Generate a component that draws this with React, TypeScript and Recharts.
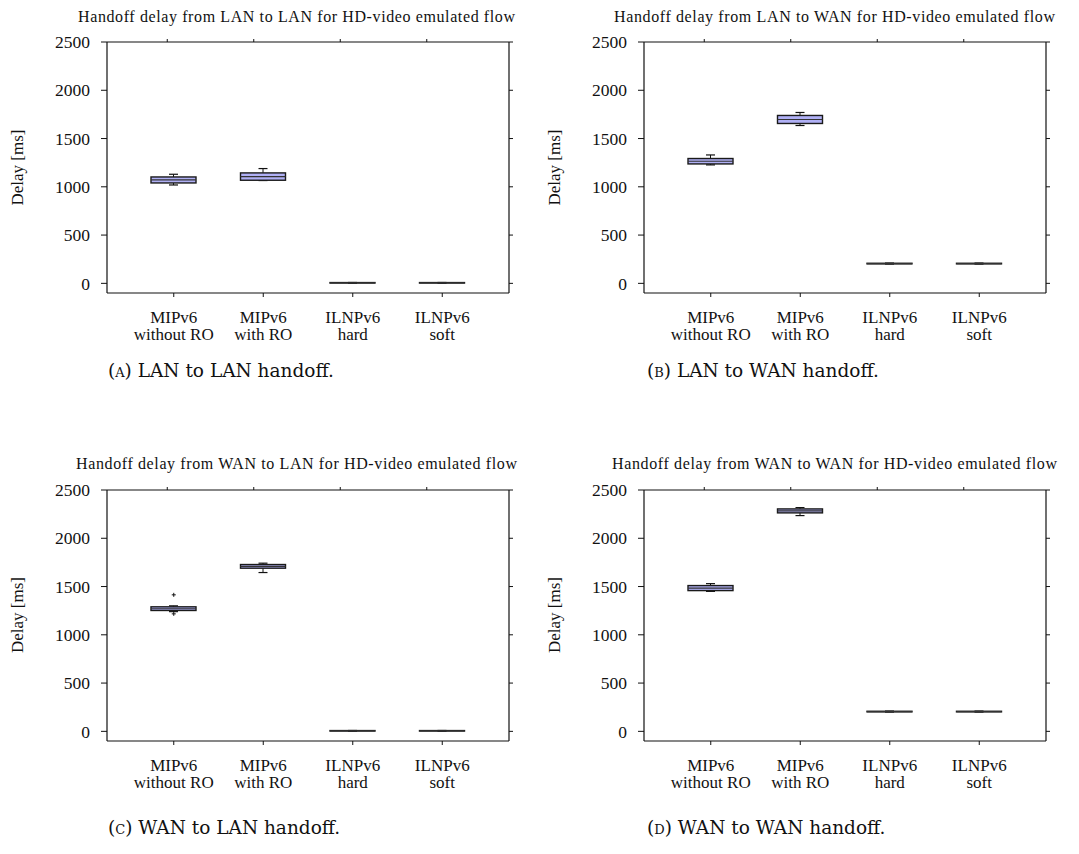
import React from 'react';
import {
  ComposedChart,
  Bar,
  Line,
  Scatter,
  XAxis,
  YAxis,
} from 'recharts';

const categories = ['MIPv6 without RO', 'MIPv6 with RO', 'ILNPv6 hard', 'ILNPv6 soft'];
const yTicks = [0, 500, 1000, 1500, 2000, 2500];

// LAN -> LAN
const lanLanMin = [1019, 1065, 3, 3];
const lanLanQ1 = [1040, 1068, 5, 5];
const lanLanMedian = [1071, 1106, 6, 6];
const lanLanQ3 = [1102, 1144, 8, 8];
const lanLanMax = [1130, 1189, 9, 9];

// LAN -> WAN
const lanWanMin = [1227, 1635, 200, 200];
const lanWanQ1 = [1237, 1656, 202, 202];
const lanWanMedian = [1265, 1697, 205, 205];
const lanWanQ3 = [1293, 1739, 208, 208];
const lanWanMax = [1330, 1770, 210, 210];

// WAN -> LAN
const wanLanMin = [1240, 1645, 3, 3];
const wanLanQ1 = [1252, 1690, 5, 5];
const wanLanMedian = [1270, 1709, 6, 6];
const wanLanQ3 = [1290, 1728, 8, 8];
const wanLanMax = [1300, 1742, 9, 9];
const wanLanOutHigh = [1414, null, null, null];
const wanLanOutLow = [1217, null, null, null];

// WAN -> WAN
const wanWanMin = [1450, 2235, 200, 200];
const wanWanQ1 = [1458, 2263, 202, 202];
const wanWanMedian = [1483, 2284, 205, 205];
const wanWanQ3 = [1510, 2304, 208, 208];
const wanWanMax = [1530, 2318, 210, 210];

const FONT = "'Liberation Serif', 'Times New Roman', Times, serif";
const CAPTION_FONT = "'DejaVu Serif', serif";

type Row = {
  name: string;
  range: [number, number];
  min: number;
  q1: number;
  median: number;
  q3: number;
  max: number;
  out1: number | null;
  out2: number | null;
};

function buildRows(
  min: number[], q1: number[], median: number[], q3: number[], max: number[],
  outA?: (number | null)[], outB?: (number | null)[],
): Row[] {
  return categories.map((name, i) => ({
    name,
    range: [min[i], max[i]],
    min: min[i],
    q1: q1[i],
    median: median[i],
    q3: q3[i],
    max: max[i],
    out1: outA ? outA[i] : null,
    out2: outB ? outB[i] : null,
  }));
}

const BoxShape = (props: any) => {
  const { x, y, width, height, payload } = props;
  if (x == null || y == null) return <g />;
  const top = height < 0 ? y + height : y;
  const h = Math.abs(height);
  const lo = payload.min;
  const hi = payload.max;
  const span = hi - lo;
  const toY = (v: number) => (span === 0 ? top : top + (h * (hi - v)) / span);
  const cx = x + width / 2;
  const cap = 4.5;
  const yMax = toY(payload.max);
  const yQ3 = toY(payload.q3);
  const yMed = toY(payload.median);
  const yQ1 = toY(payload.q1);
  const yMin = toY(payload.min);
  return (
    <g>
      <line x1={cx} x2={cx} y1={yMax} y2={yQ3} stroke="#111" strokeWidth={1} />
      <line x1={cx} x2={cx} y1={yQ1} y2={yMin} stroke="#111" strokeWidth={1} />
      <line x1={cx - cap} x2={cx + cap} y1={yMax} y2={yMax} stroke="#111" strokeWidth={1.2} />
      <line x1={cx - cap} x2={cx + cap} y1={yMin} y2={yMin} stroke="#111" strokeWidth={1.2} />
      <rect x={x} y={yQ3} width={width} height={Math.max(yQ1 - yQ3, 0.5)} fill="#b0b0f5" stroke="#1a1a1a" strokeWidth={1.4} />
      <line x1={x} x2={x + width} y1={yMed} y2={yMed} stroke="#333" strokeWidth={1.2} />
    </g>
  );
};

const PlusShape = (props: any) => {
  const { cx, cy } = props;
  if (cx == null || cy == null || Number.isNaN(cx) || Number.isNaN(cy)) return <g />;
  return (
    <g>
      <line x1={cx - 2} x2={cx + 2} y1={cy} y2={cy} stroke="#111" strokeWidth={1} />
      <line x1={cx} x2={cx} y1={cy - 2} y2={cy + 2} stroke="#111" strokeWidth={1} />
    </g>
  );
};

const CategoryTick = (props: any) => {
  const { x, y, payload } = props;
  const parts = String(payload.value).split(' ');
  const first = parts[0];
  const rest = parts.slice(1).join(' ');
  return (
    <g>
      <text x={x} y={y + 23.5} textAnchor="middle" style={{ fontFamily: FONT, fontSize: 17 }} fill="#111">
        {first}
      </text>
      <text x={x} y={y + 41} textAnchor="middle" style={{ fontFamily: FONT, fontSize: 17 }} fill="#111">
        {rest}
      </text>
    </g>
  );
};

const Panel = ({ data, left, top }: { data: Row[]; left: number; top: number }) => (
  <div style={{ position: 'absolute', left, top, width: 540, height: 380 }}>
    <ComposedChart
      width={540}
      height={380}
      data={data}
      margin={{ top: 38, right: 21, bottom: 27, left: 47 }}
    >
      <XAxis
        dataKey="name"
        height={60}
        padding={{ left: 22, right: 22 }}
        axisLine={{ stroke: '#111', strokeWidth: 1.2 }}
        tickLine={{ stroke: '#111' }}
        tickSize={4}
        tick={<CategoryTick />}
        interval={0}
      />
      <XAxis
        xAxisId="top"
        orientation="top"
        dataKey="name"
        height={4}
        padding={{ left: 17, right: 39 }}
        axisLine={{ stroke: '#111', strokeWidth: 1.2 }}
        tickLine={{ stroke: '#111' }}
        tickSize={3}
        tickFormatter={() => ''}
        interval={0}
      />
      <YAxis
        width={60}
        domain={[-100, 2500]}
        ticks={yTicks}
        interval={0}
        allowDataOverflow
        axisLine={{ stroke: '#111', strokeWidth: 1.2 }}
        tickLine={{ stroke: '#111' }}
        tickSize={6}
        tickMargin={11}
        tick={{ style: { fontFamily: FONT, fontSize: 17.5 }, fill: '#111' }}
      />
      <YAxis
        yAxisId="r"
        orientation="right"
        width={10}
        domain={[-100, 2500]}
        ticks={yTicks}
        interval={0}
        allowDataOverflow
        axisLine={{ stroke: '#111', strokeWidth: 1.2 }}
        tickLine={{ stroke: '#111' }}
        tickSize={4}
        tickFormatter={() => ''}
      />
      <Bar dataKey="range" barSize={45} shape={<BoxShape />} isAnimationActive={false} />
      <Scatter dataKey="out1" shape={<PlusShape />} isAnimationActive={false} />
      <Scatter dataKey="out2" shape={<PlusShape />} isAnimationActive={false} />
      <Line
        xAxisId="top"
        yAxisId="r"
        dataKey="median"
        stroke="none"
        dot={false}
        activeDot={false}
        isAnimationActive={false}
      />
    </ComposedChart>
  </div>
);

const titles = [
  { text: 'Handoff delay from LAN to LAN for HD-video emulated flow', x: 296.5, y: 21.5, w: 437 },
  { text: 'Handoff delay from LAN to WAN for HD-video emulated flow', x: 834.5, y: 21.5, w: 441 },
  { text: 'Handoff delay from WAN to LAN for HD-video emulated flow', x: 296.5, y: 469, w: 441 },
  { text: 'Handoff delay from WAN to WAN for HD-video emulated flow', x: 834.5, y: 469, w: 445 },
];

const captions = [
  { tag: '(a)', text: ' LAN to LAN handoff.', x: 108, y: 377 },
  { tag: '(b)', text: ' LAN to WAN handoff.', x: 647, y: 377 },
  { tag: '(c)', text: ' WAN to LAN handoff.', x: 108, y: 834 },
  { tag: '(d)', text: ' WAN to WAN handoff.', x: 647, y: 834 },
];

const yLabels = [
  { x: 23, y: 167.5 },
  { x: 559.6, y: 167.5 },
  { x: 23, y: 615 },
  { x: 559.6, y: 615 },
];

export default function App() {
  const lanLan = buildRows(lanLanMin, lanLanQ1, lanLanMedian, lanLanQ3, lanLanMax);
  const lanWan = buildRows(lanWanMin, lanWanQ1, lanWanMedian, lanWanQ3, lanWanMax);
  const wanLan = buildRows(wanLanMin, wanLanQ1, wanLanMedian, wanLanQ3, wanLanMax, wanLanOutHigh, wanLanOutLow);
  const wanWan = buildRows(wanWanMin, wanWanQ1, wanWanMedian, wanWanQ3, wanWanMax);

  return (
    <div style={{ position: 'absolute', left: 0, top: 0, width: 1079, height: 854, background: '#fff' }}>
      <Panel data={lanLan} left={0} top={0} />
      <Panel data={lanWan} left={536.6} top={0} />
      <Panel data={wanLan} left={0} top={447.5} />
      <Panel data={wanWan} left={536.6} top={447.5} />
      <svg
        width={1079}
        height={854}
        style={{ position: 'absolute', left: 0, top: 0, pointerEvents: 'none' }}
      >
        {titles.map((t) => (
          <text
            key={t.text}
            x={t.x}
            y={t.y}
            textAnchor="middle"
            style={{ fontFamily: FONT, fontSize: 16 }}
            fill="#111"
            textLength={t.w}
            lengthAdjust="spacing"
          >
            {t.text}
          </text>
        ))}
        {yLabels.map((p, i) => (
          <text
            key={i}
            x={p.x}
            y={p.y}
            textAnchor="middle"
            style={{ fontFamily: FONT, fontSize: 17 }}
            fill="#111"
            transform={`rotate(-90, ${p.x}, ${p.y})`}
          >
            Delay [ms]
          </text>
        ))}
        {captions.map((c) => (
          <text key={c.tag} x={c.x} y={c.y} style={{ fontFamily: CAPTION_FONT, fontSize: 18.5 }} fill="#111">
            <tspan style={{ fontVariant: 'small-caps' }}>{c.tag}</tspan>
            {c.text}
          </text>
        ))}
      </svg>
    </div>
  );
}
